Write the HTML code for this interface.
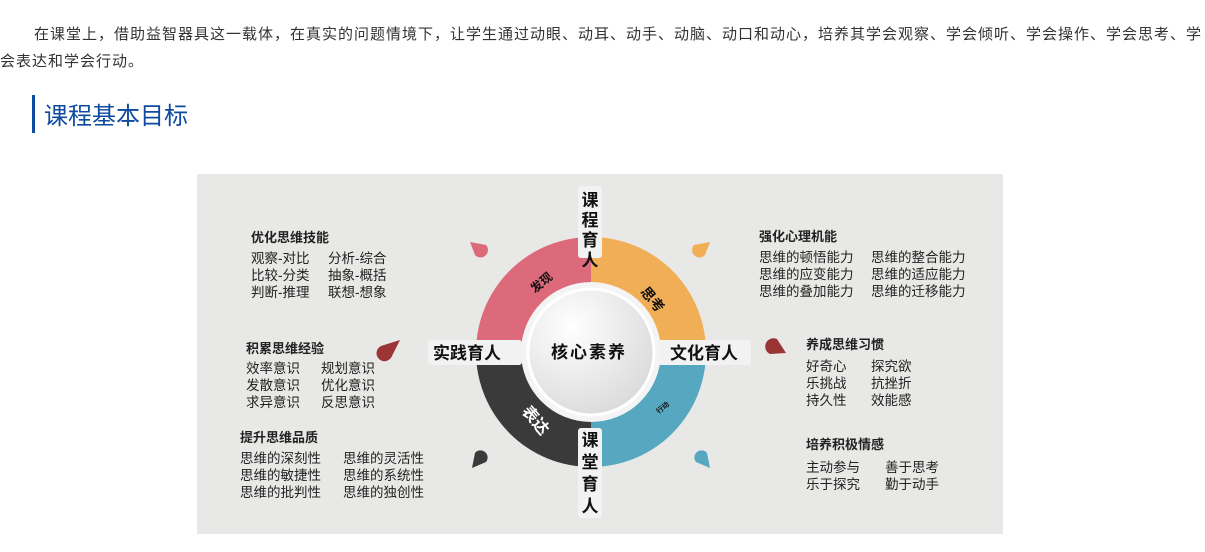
<!DOCTYPE html>
<html><head><meta charset="utf-8"><style>
body{margin:0;width:1205px;height:552px;background:#fff;font-family:"Liberation Sans","Noto Sans CJK SC",sans-serif;position:relative;overflow:hidden}
.p{position:absolute;left:0;top:21px;width:1215px;font-size:15px;color:#333;line-height:27px;text-indent:34px;margin:0;white-space:nowrap;letter-spacing:1px}
.h{position:absolute;left:32px;top:95px;border-left:3px solid #0d4aa0;padding-left:9px;height:38px;font-size:24px;color:#0d4aa0;line-height:44px}
svg{position:absolute;left:0;top:0}
</style></head><body>
<p class="p">在课堂上，借助益智器具这一载体，在真实的问题情境下，让学生通过动眼、动耳、动手、动脑、动口和动心，培养其学会观察、学会倾听、学会操作、学会思考、学<br>会表达和学会行动。</p>
<div class="h">课程基本目标</div>
<svg width="1205" height="552" font-family="Liberation Sans, Noto Sans CJK SC, sans-serif">
<defs><radialGradient id="g" cx="0.35" cy="0.3" r="0.8"><stop offset="0" stop-color="#fff"/><stop offset="1" stop-color="#d8d8d8"/></radialGradient></defs>
<rect x="197" y="174" width="806" height="360" fill="#e8e8e6"/>
<path d="M591,352 L591,237 A115,115 0 0 0 476,352 Z" fill="#dc6a7a"/>
<path d="M591,352 L706,352 A115,115 0 0 0 591,237 Z" fill="#f0ae57"/>
<path d="M591,352 L591,467 A115,115 0 0 0 706,352 Z" fill="#55a8bf"/>
<path d="M591,352 L476,352 A115,115 0 0 0 591,467 Z" fill="#3a3a3a"/>
<circle cx="591" cy="352" r="70" fill="#f4f4f4"/>
<circle cx="591" cy="352" r="63" fill="url(#g)" stroke="#fff" stroke-width="3"/>
<rect x="578" y="186" width="24" height="72" rx="3" fill="#f2f2f2"/>
<rect x="578" y="428" width="24" height="90" rx="3" fill="#f2f2f2"/>
<rect x="428" y="340" width="94" height="25" rx="3" fill="#f2f2f2"/>
<rect x="658" y="340" width="93" height="25" rx="3" fill="#f2f2f2"/>
<g font-weight="bold" fill="#111" font-size="17" text-anchor="middle">
<text x="590" y="206">课</text><text x="590" y="226">程</text><text x="590" y="246">育</text><text x="590" y="266">人</text>
<text x="590" y="446">课</text><text x="590" y="468">堂</text><text x="590" y="490">育</text><text x="590" y="512">人</text>
<text x="467" y="359">实践育人</text><text x="704" y="359">文化育人</text>
<text x="589" y="358" font-size="17" letter-spacing="2">核心素养</text>
<text x="542" y="288" font-size="12" transform="rotate(-40 540 284)">发现</text>
<text x="652" y="304" font-size="14" transform="rotate(50 652 300)">思考</text>
<text x="536" y="426" font-size="16" fill="#fff" transform="rotate(50 536 420)">表达</text>
<text x="663" y="410" font-size="7" transform="rotate(-40 663 408)">行动</text>
</g>
<g>
<path d="M470,242 L486,245 A7,7 0 1 1 475,255 Z" fill="#dc6a7a"/>
<path d="M710,242 L694,245 A7,7 0 1 0 705,255 Z" fill="#f0ae57"/>
<path d="M400,340 L392,356 A8,8 0 1 1 381,346 Z" fill="#9b3535"/>
<path d="M786,353 L770,354 A8,8 0 1 1 777,339 Z" fill="#9b3535"/>
<path d="M472,468 L475,453 A7,7 0 1 1 486,462 Z" fill="#3a3a3a"/>
<path d="M710,468 L707,453 A7,7 0 1 0 696,462 Z" fill="#55a8bf"/>
</g>
<g font-size="13.5" fill="#222">
<g font-weight="bold" font-size="13"><text x="251" y="242">优化思维技能</text><text x="246" y="353">积累思维经验</text><text x="240" y="442">提升思维品质</text><text x="759" y="241">强化心理机能</text><text x="806" y="349">养成思维习惯</text><text x="806" y="449">培养积极情感</text></g>
<text x="251" y="263">观察-对比</text><text x="328" y="263">分析-综合</text>
<text x="251" y="280">比较-分类</text><text x="328" y="280">抽象-概括</text>
<text x="251" y="297">判断-推理</text><text x="328" y="297">联想-想象</text>
<text x="246" y="373">效率意识</text><text x="321" y="373">规划意识</text>
<text x="246" y="390">发散意识</text><text x="321" y="390">优化意识</text>
<text x="246" y="407">求异意识</text><text x="321" y="407">反思意识</text>
<text x="240" y="463">思维的深刻性</text><text x="343" y="463">思维的灵活性</text>
<text x="240" y="480">思维的敏捷性</text><text x="343" y="480">思维的系统性</text>
<text x="240" y="497">思维的批判性</text><text x="343" y="497">思维的独创性</text>
<text x="759" y="262">思维的顿悟能力</text><text x="871" y="262">思维的整合能力</text>
<text x="759" y="279">思维的应变能力</text><text x="871" y="279">思维的适应能力</text>
<text x="759" y="296">思维的叠加能力</text><text x="871" y="296">思维的迁移能力</text>
<text x="806" y="371">好奇心</text><text x="871" y="371">探究欲</text>
<text x="806" y="388">乐挑战</text><text x="871" y="388">抗挫折</text>
<text x="806" y="405">持久性</text><text x="871" y="405">效能感</text>
<text x="806" y="472">主动参与</text><text x="885" y="472">善于思考</text>
<text x="806" y="489">乐于探究</text><text x="885" y="489">勤于动手</text>
</g>
</svg>
</body></html>
